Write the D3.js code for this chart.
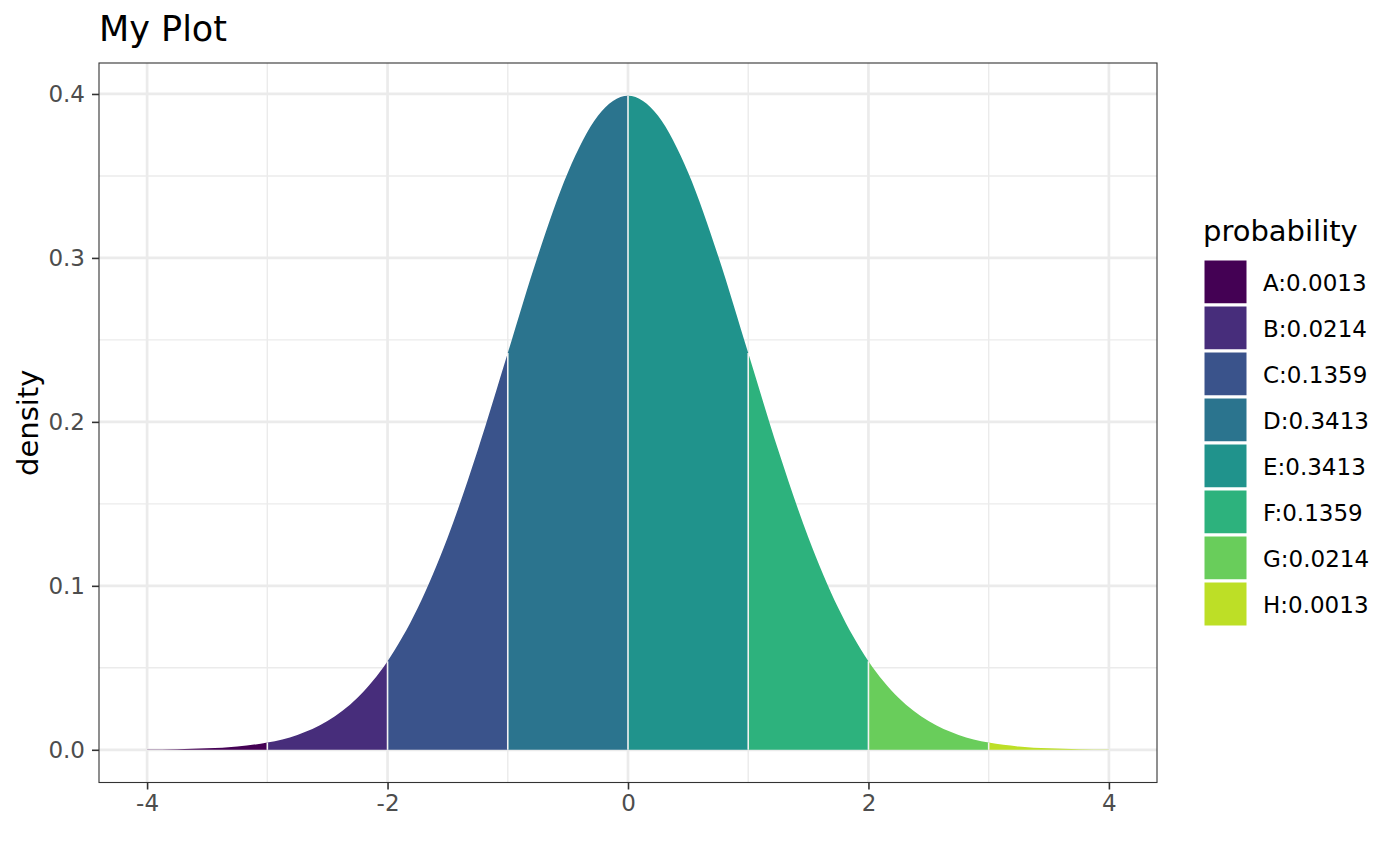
<!DOCTYPE html>
<html>
<head>
<meta charset="utf-8">
<script src="https://cdn.jsdelivr.net/npm/d3@7"></script>
<style>
    body { margin: 0; background: #fff; }
    text { font-family: "DejaVu Sans", sans-serif; }
</style>
</head>
<body>
<div id="chart"></div>
<script>
// normal density, every 0.25
const xs = [-4, -3.75, -3.5, -3.25, -3, -2.75, -2.5, -2.25, -2, -1.75, -1.5, -1.25, -1, -0.75, -0.5, -0.25,
    0, 0.25, 0.5, 0.75, 1, 1.25, 1.5, 1.75, 2, 2.25, 2.5, 2.75, 3, 3.25, 3.5, 3.75, 4];
const density = [0.00013, 0.00035, 0.00087, 0.00203, 0.00443, 0.00909, 0.01753, 0.03174, 0.05399, 0.08628, 0.12952, 0.18265, 0.24197, 0.30114, 0.35207, 0.38667,
    0.39894, 0.38667, 0.35207, 0.30114, 0.24197, 0.18265, 0.12952, 0.08628, 0.05399, 0.03174, 0.01753, 0.00909, 0.00443, 0.00203, 0.00087, 0.00035, 0.00013];

// the eight bands and their legend labels
const bandStart = [-4, -3, -2, -1, 0, 1, 2, 3];
const bandEnd = [-3, -2, -1, 0, 1, 2, 3, 4];
const bandLabels = ["A:0.0013", "B:0.0214", "C:0.1359", "D:0.3413", "E:0.3413", "F:0.1359", "G:0.0214", "H:0.0013"];

const xTicks = [-4, -2, 0, 2, 4];
const xMinor = [-3, -1, 1, 3];
const yTicks = [0, 0.1, 0.2, 0.3, 0.4];
const yMinor = [0.05, 0.15, 0.25, 0.35];

const W = 1400, H = 866;
const panel = { left: 99, right: 1157, top: 63, bottom: 782.5 };

const x = d3.scaleLinear()
    .domain([-4.4, 4.4])
    .range([panel.left, panel.right]);
const y = d3.scaleLinear()
    .domain([-0.019947, 0.418887])
    .range([panel.bottom, panel.top]);

const fill = d3.scaleOrdinal()
    .domain(bandLabels)
    .range(bandLabels.map((d, i) => d3.interpolateViridis(i / 7 * 0.9)));

const svg = d3.select("#chart")
    .append("svg")
    .attr("width", W)
    .attr("height", H);

const pts = xs.map((d, i) => [d, density[i]]);

// Grid
const grid = svg.append("g");
grid.selectAll(".ymin").data(yMinor).enter().append("line")
    .attr("x1", panel.left).attr("x2", panel.right)
    .attr("y1", d => y(d)).attr("y2", d => y(d))
    .attr("stroke", "#ebebeb").attr("stroke-width", 1.4);
grid.selectAll(".xmin").data(xMinor).enter().append("line")
    .attr("y1", panel.top).attr("y2", panel.bottom)
    .attr("x1", d => x(d)).attr("x2", d => x(d))
    .attr("stroke", "#ebebeb").attr("stroke-width", 1.4);
grid.selectAll(".ymaj").data(yTicks).enter().append("line")
    .attr("x1", panel.left).attr("x2", panel.right)
    .attr("y1", d => y(d)).attr("y2", d => y(d))
    .attr("stroke", "#ebebeb").attr("stroke-width", 2.7);
grid.selectAll(".xmaj").data(xTicks).enter().append("line")
    .attr("y1", panel.top).attr("y2", panel.bottom)
    .attr("x1", d => x(d)).attr("x2", d => x(d))
    .attr("stroke", "#ebebeb").attr("stroke-width", 2.7);

// Bands: one curve, clipped per band
const area = d3.area()
    .x(d => x(d[0]))
    .y0(y(0))
    .y1(d => y(d[1]))
    .curve(d3.curveMonotoneX);

const defs = svg.append("defs");
defs.selectAll("clipPath")
    .data(bandLabels)
    .enter()
    .append("clipPath")
    .attr("id", (d, i) => "band-" + i)
    .append("rect")
    .attr("x", (d, i) => x(bandStart[i]))
    .attr("width", (d, i) => x(bandEnd[i]) - x(bandStart[i]))
    .attr("y", panel.top)
    .attr("height", panel.bottom - panel.top);

svg.append("g")
    .selectAll("path")
    .data(bandLabels)
    .enter()
    .append("path")
    .attr("d", area(pts))
    .attr("clip-path", (d, i) => "url(#band-" + i + ")")
    .attr("fill", d => fill(d));

// band edges
svg.append("g")
    .selectAll("line")
    .data(bandStart.slice(1))
    .enter()
    .append("line")
    .attr("x1", d => x(d)).attr("x2", d => x(d))
    .attr("y1", y(0))
    .attr("y2", d => y(density[xs.indexOf(d)]))
    .attr("stroke", "#f2f2f2")
    .attr("stroke-width", 1.6);

// Border
svg.append("rect")
    .attr("x", panel.left).attr("y", panel.top)
    .attr("width", panel.right - panel.left)
    .attr("height", panel.bottom - panel.top)
    .attr("fill", "none")
    .attr("stroke", "#333333")
    .attr("stroke-width", 1.1);

// Axes
const xAxis = svg.append("g")
    .attr("transform", "translate(0," + panel.bottom + ")")
    .call(d3.axisBottom(x).tickValues(xTicks).tickSize(7).tickPadding(5).tickFormat(d3.format("d")));
const yAxis = svg.append("g")
    .attr("transform", "translate(" + panel.left + ",0)")
    .call(d3.axisLeft(y).tickValues(yTicks).tickSize(7).tickPadding(7).tickFormat(d3.format(".1f")));

[xAxis, yAxis].forEach(a => {
    a.select(".domain").remove();
    a.selectAll(".tick line").attr("stroke", "#333333").attr("stroke-width", 1.6);
    a.selectAll(".tick text")
        .attr("fill", "#4d4d4d")
        .style("font-size", "23px")
        .style("font-family", "'DejaVu Sans', sans-serif");
});
xAxis.selectAll(".tick text").text(d => d < 0 ? "-" + Math.abs(d) : d);

// Titles
svg.append("text")
    .attr("x", 99)
    .attr("y", 41)
    .style("font-size", "35px")
    .attr("fill", "#000")
    .text("My Plot");

svg.append("text")
    .attr("transform", "translate(38," + ((panel.top + panel.bottom) / 2) + ") rotate(-90)")
    .attr("text-anchor", "middle")
    .style("font-size", "29px")
    .attr("fill", "#000")
    .text("density");

// Legend
const legend = svg.append("g")
    .attr("transform", "translate(1203,0)");

legend.append("text")
    .attr("x", 0)
    .attr("y", 241)
    .style("font-size", "29px")
    .attr("fill", "#000")
    .text("probability");

const keys = legend.selectAll(".key")
    .data(bandLabels)
    .enter()
    .append("g")
    .attr("transform", (d, i) => "translate(0," + (259 + i * 46) + ")");

keys.append("rect")
    .attr("x", 0)
    .attr("y", 0)
    .attr("width", 45)
    .attr("height", 46)
    .attr("fill", d => fill(d))
    .attr("stroke", "#fff")
    .attr("stroke-width", 3);

keys.append("text")
    .attr("x", 60)
    .attr("y", 24)
    .attr("dy", "0.35em")
    .style("font-size", "23px")
    .attr("fill", "#000")
    .text(d => d);
</script>
</body>
</html>
